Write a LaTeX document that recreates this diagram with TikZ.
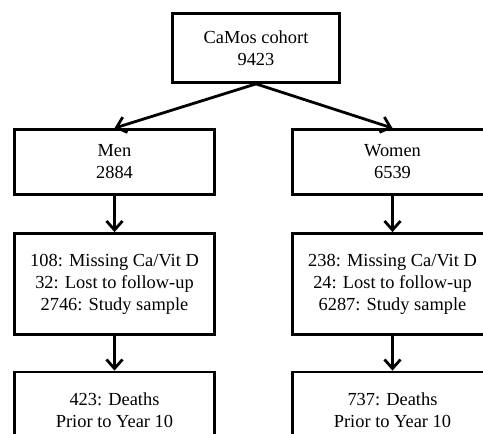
\documentclass[tikz,border=0pt]{standalone}
\usepackage{fontspec}
\setmainfont{Liberation Serif}
\usetikzlibrary{arrows.meta}
\begin{document}
\begin{tikzpicture}[x=1pt,y=-1pt,
  box/.style={draw, line width=2.8pt, align=center, inner sep=0pt,
    font=\fontsize{18.4}{22}\selectfont},
  arr/.style={line width=2.8pt, -{Straight Barb[length=9pt,width=16pt,line width=2.8pt]}}]
\useasboundingbox (0,0) rectangle (483,434);
\clip (0,0) rectangle (483,434);
\node[box, minimum width=167pt, minimum height=69pt] (top) at (256,48) {CaMos cohort\\9423};
\node[box, minimum width=200pt, minimum height=65pt] (men) at (114.5,162) {Men\\2884};
\node[box, minimum width=200pt, minimum height=65pt] (women) at (392.5,162) {Women\\6539};
\node[box, minimum width=200pt, minimum height=101pt] (men2) at (114.5,284) {108: Missing Ca/Vit D\\32: Lost to follow-up\\2746: Study sample};
\node[box, minimum width=200pt, minimum height=101pt] (women2) at (392.5,284) {238: Missing Ca/Vit D\\24: Lost to follow-up\\6287: Study sample};
\node[box, minimum width=200pt, minimum height=76pt] (men3) at (114.5,410) {423: Deaths\\Prior to Year 10};
\node[box, minimum width=200pt, minimum height=76pt] (women3) at (392.5,410) {737: Deaths\\Prior to Year 10};
\draw[arr] (top.south) -- (men.north);
\draw[arr] (top.south) -- (women.north);
\draw[arr] (men) -- (men2);
\draw[arr] (women) -- (women2);
\draw[arr] (men2) -- (men3);
\draw[arr] (women2) -- (women3);
\end{tikzpicture}
\end{document}
